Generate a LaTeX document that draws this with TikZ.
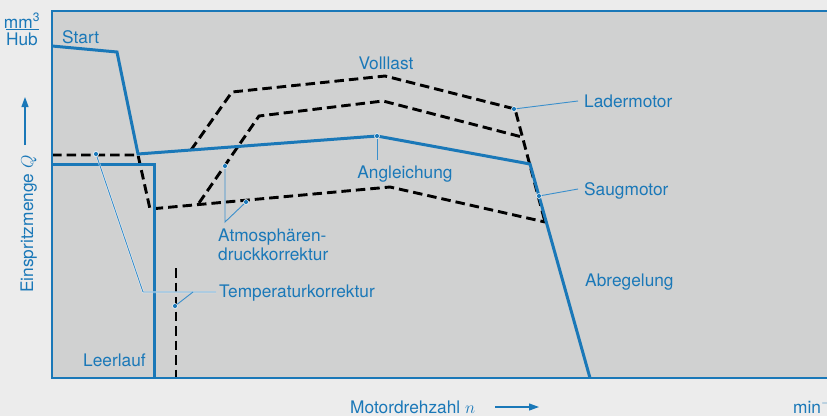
\documentclass[tikz,border=0pt]{standalone}
\usepackage{fontspec}
\setmainfont{TeX Gyre Heros}
\usetikzlibrary{arrows.meta}
\definecolor{bgout}{RGB}{236,236,236}
\definecolor{plotbg}{RGB}{208,209,209}
\definecolor{bl}{RGB}{26,120,184}
\definecolor{leadc}{RGB}{58,143,204}
\begin{document}
\begin{tikzpicture}[x=1pt,y=-1pt,
  curve/.style={draw=bl,line width=3pt,line join=miter},
  dashline/.style={draw=black,line width=2.9pt,dash pattern=on 9.5pt off 5pt},
  leader/.style={draw=leadc,line width=0.9pt},
  halo/.style={draw=white,line width=2pt,opacity=0.6},
  lbl/.style={text=bl,font=\fontsize{17.3}{19}\selectfont,inner sep=0pt,text height=12.4pt,text depth=0pt},
  dotm/.style={circle,fill=bl,draw=white,line width=0.5pt,inner sep=0pt,minimum size=5pt},
  axarrow/.style={draw=bl,line width=1.2pt,-{Triangle[length=10pt,width=7pt]}}]
\fill[bgout] (0,0) rectangle (827,416);
\useasboundingbox (0,0) rectangle (827,416);
\fill[plotbg] (52,11) rectangle (840,378);

% dashed curves
\draw[dashline] (52,155) -- (138,155) -- (150,209) -- (390,187) -- (545,222);
\draw[dashline] (191,150) -- (232,92) -- (385,76) -- (515,109) -- (545,222);
\draw[dashline] (199,203) -- (259,116) -- (383,101) -- (522,137);
\draw[dashline] (176,268) -- (176,378);

% solid curves
\draw[curve] (52,46) -- (117,52) -- (138,154) -- (377,136) -- (530,164) -- (590,378);
\draw[curve] (52,164) -- (154,164) -- (154,378);

% frame
\draw[bl,line width=1.5pt] (840,11) -- (52,11) -- (52,378) -- (840,378);

% marker dots
\node[dotm] (pAng) at (377,136) {};
\node[dotm] (pLad) at (514,109) {};
\node[dotm] (pSaug) at (539,196) {};
\node[dotm] (pAtm1) at (225,166) {};
\node[dotm] (pAtm2) at (246,202) {};
\node[dotm] (pTemp1) at (96,154) {};
\node[dotm] (pTemp2) at (175,306) {};
\coordinate (eAng) at (377,160);
\coordinate (eLad) at (578,101);
\coordinate (eSaug) at (578,189);
\coordinate (eAtm) at (225,222);
\coordinate (eT1) at (143,292);
\coordinate (eT2) at (216,292);
\coordinate (eT3) at (193,292);

% leaders
\draw[halo] (pTemp1) -- (eT1) -- (eT2);
\draw[leader] (pAng) -- (eAng);
\draw[leader] (pLad) -- (eLad);
\draw[leader] (pSaug) -- (eSaug);
\draw[leader] (pAtm1) -- (eAtm) -- (pAtm2);
\draw[leader] (pTemp1) -- (eT1) -- (eT2);
\draw[leader] (pTemp2) -- (eT3);
\node[dotm] at (pTemp1) {};

% labels
\node[lbl,anchor=west] (start) at (62,37) {Start};
\node[lbl] (voll) at (386,63) {Volllast};
\node[lbl,anchor=west] (lad) at (584,101) {Ladermotor};
\node[lbl,anchor=west] (saug) at (584,189) {Saugmotor};
\node[lbl] (ang) at (405,172) {Angleichung};
\node[lbl,anchor=west] (atm1) at (218,235) {Atmosphären-};
\node[lbl,anchor=west] (atm2) at (218,254) {druckkorrektur};
\node[lbl,anchor=west] (temp) at (219,291) {Temperaturkorrektur};
\node[lbl,anchor=west] (abr) at (585,280) {Abregelung};
\node[lbl,anchor=west] (leer) at (83,360) {Leerlauf};

% axes labels
\node[lbl] (mm) at (22,22) {mm\textsuperscript{3}};
\node[lbl] (hub) at (22,39) {Hub};
\draw[bl,line width=1.1pt] (6,29.5) -- (39,29.5);
\node[lbl,rotate=90] (ylab) at (27,224) {Einspritzmenge $Q$};
\coordinate (ya) at (25,145);
\coordinate (yb) at (25,97);
\draw[axarrow] (ya) -- (yb);
\node[lbl,anchor=west] (xlab) at (350,407) {Motordrehzahl $n$};
\coordinate (xa) at (495,407);
\coordinate (xb) at (539,407);
\draw[axarrow] (xa) -- (xb);
\node[lbl,anchor=west] (unit) at (793,407) {min$^{-1}$};
\end{tikzpicture}
\end{document}
